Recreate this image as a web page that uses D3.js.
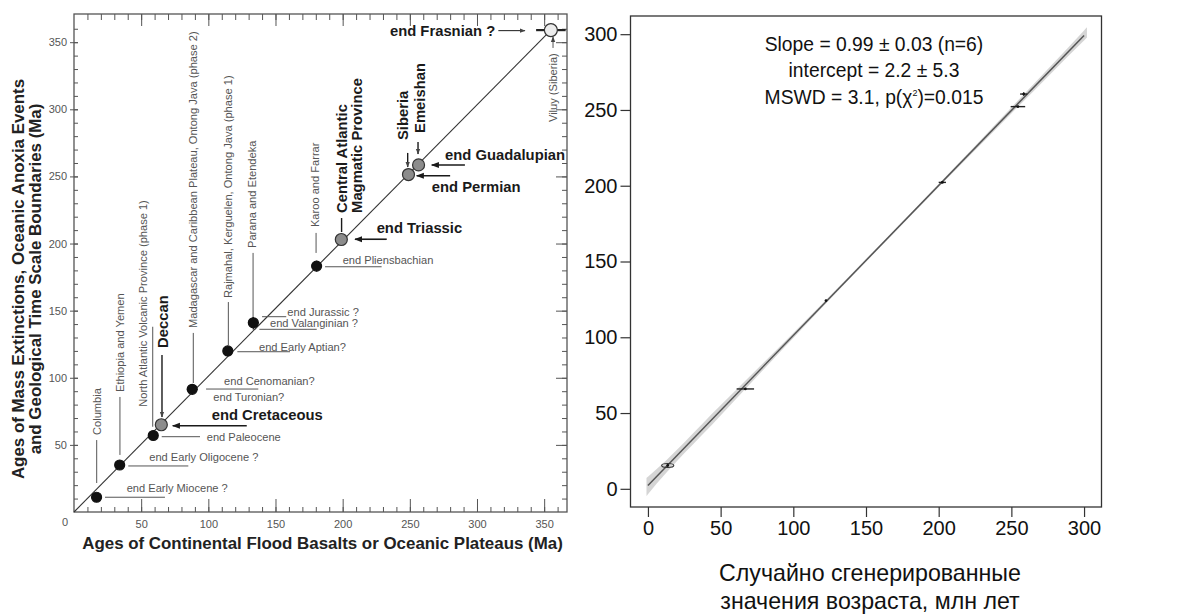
<!DOCTYPE html>
<html><head><meta charset="utf-8">
<script src="https://cdn.jsdelivr.net/npm/d3@7"></script>
<style>
body{margin:0;background:#fff;}
svg{display:block;font-family:"Liberation Sans",Arial,Helvetica,sans-serif;}
</style>
</head><body>
<svg id="c" width="1180" height="615"></svg>
<script>
// ================= LEFT CHART DATA =================
const lipNames = ["Columbia","Ethiopia and Yemen","North Atlantic Volcanic Province (phase 1)","Deccan",
  "Madagascar and Caribbean Plateau, Ontong Java (phase 2)","Rajmahal, Kerguelen, Ontong Java (phase 1)",
  "Parana and Etendeka","Karoo and Farrar","Central Atlantic Magmatic Province","Siberia","Emeishan","Viluy (Siberia)"];
const lipAges   = [16.8, 34, 59, 65, 88, 114.5, 133.5, 180.6, 199, 249, 256.5, 355];
const eventAges = [11, 35, 57, 65, 91.4, 120, 141, 183.2, 203, 251.4, 258.6, 359];
const pointKind = ["black","black","black","gray","black","black","black","black","gray","gray","gray","light"];
const lipAgeErr   = [0, 0, 0, 0, 4, 0, 4, 0, 0, 0, 0, 11];
const eventAgeErr = [0, 0, 0, 0, 0, 4, 5, 4, 0, 0, 0, 0];
const diagX = [0, 355];
const diagY = [0, 359];
const leftTicks = [50, 100, 150, 200, 250, 300, 350];

const eventNames = ["end Early Miocene ?","end Early Oligocene ?","end Paleocene","end Cretaceous","end Cenomanian?",
  "end Turonian?","end Early Aptian?","end Valanginian ?","end Jurassic ?","end Pliensbachian","end Triassic",
  "end Permian","end Guadalupian","end Frasnian ?"];

// ================= RIGHT CHART DATA =================
const simX    = [13.6, 67, 122.5, 202.5, 254.5, 258.5];
const simY    = [15.4, 65.9, 124.2, 202.2, 252.2, 260.5];
const simXErr = [4.2, 6, 0.6, 2.5, 5, 2.5];
const simYErr = [1.3, 0.4, 0.4, 0.4, 0.4, 1.2];
const fitX = [0, 300];
const fitY = [2.2, 299.2];
const bandX    = [-1, 0, 50, 100, 150, 200, 250, 300, 302];
const bandHalf = [6.0, 5.8, 3.4, 1.6, 0.9, 1.0, 2.0, 3.3, 3.4];
const rightTicks = [0, 50, 100, 150, 200, 250, 300];
const statLines = ["Slope = 0.99 ± 0.03 (n=6)", "intercept = 2.2 ± 5.3", "MSWD = 3.1, p(χ", ")=0.015"];
const xTitleRight = ["Случайно сгенерированные", "значения возраста, млн лет"];

// ================= LAYOUT (positions in data units) =================
const hLabels = [
  {t:0,  tx:39.2, ty:17.9, line:[23.1, 67.7, 11]},
  {t:1,  tx:56,   ty:41,   line:[40.4, 85.1, 34.3]},
  {t:2,  tx:98.8, ty:56.1, line:[65.3, 93.8, 56.1]},
  {t:3,  tx:102.5,ty:72.3, line:[128.6, 73.5, 64.3], arrow:true, bold:true},
  {t:4,  tx:111.7,ty:97.8, line:[98.3, 137.2, 91.6]},
  {t:5,  tx:103.7,ty:85.9},
  {t:6,  tx:137.7,ty:123.2,line:[121.6, 160.8, 119.4]},
  {t:7,  tx:145.9,ty:140.6,line:[138, 180.7, 136.1]},
  {t:8,  tx:158.8,ty:149.2,line:[140, 158, 145.5]},
  {t:9,  tx:200,  ty:187.7,line:[186.9, 229, 182.7]},
  {t:10, tx:225.3,ty:211.4,line:[232.8, 209.2, 203.2], arrow:true, bold:true},
  {t:11, tx:266.3,ty:242.4,line:[280, 255.1, 250.5], arrow:true, bold:true},
  {t:12, tx:276.2,ty:266,  line:[291, 266.3, 258.5], arrow:true, bold:true},
  {t:13, tx:235.2,ty:358.6,line:[315.9, 335.7, 358.6], arrow:true, bold:true, thin:true}
];
const vLabels = [
  {t:0,  x:16.9, y0:57.4,  line:[16.9, 53.6, 21.6]},
  {t:1,  x:34.2, y0:89.4,  line:[34.2, 85.7, 42.5]},
  {t:2,  x:51.6, y0:78.4,  line:[58.6, 138, 63.5]},
  {t:3,  x:66.5, y0:122.2, line:[65.5, 117, 70.8], arrow:true, bold:true},
  {t:4,  x:88.8, y0:137.1, line:[88.8, 133.4, 96.1]},
  {t:5,  x:114.9,y0:159.4, line:[114.9, 156.4, 124.4]},
  {t:6,  x:132.3,y0:196.7, line:[133.3, 193, 144.5]},
  {t:7,  x:179.4,y0:212.3, line:[180.2, 207.9, 193]},
  {t:9,  x:245.1,y0:277.1, line:[248.4, 267.5, 257], arrow:true, bold:true},
  {t:10, x:257.6,y0:282.4, line:[256.1, 275.6, 266.7], arrow:true, bold:true},
  {t:11, x:356.6,y0:290.5, line:[356.6, 345.7, 353.9], arrow:true, thin:true}
];

const svg = d3.select("#c");
const defs = svg.append("defs");
function mk(id, size, color){
  defs.append("marker").attr("id", id).attr("viewBox","0 0 10 10").attr("refX",9).attr("refY",5)
    .attr("markerWidth", size).attr("markerHeight", size).attr("markerUnits","userSpaceOnUse")
    .attr("orient","auto").append("path").attr("d","M0,1.2 L10,5 L0,8.8 z").attr("fill", color);
}
mk("ahb", 8, "#1a1a1a");
mk("ahs", 6, "#444");

const BOLD = 14.8, SMALL = 11.1;

// ================= LEFT CHART =================
const L = {x0:74, x1:567, y0:512, y1:14};
const lx = d3.scaleLinear().domain([0, 367]).range([L.x0, L.x1]);
const ly = d3.scaleLinear().domain([0, 371]).range([L.y0, L.y1]);
const gl = svg.append("g");
const minorL = d3.range(10, 370, 10);
const axisCol = "#555";

function styleAxis(g){ g.select(".domain").remove(); g.selectAll("line").attr("stroke", axisCol).attr("stroke-width",1); }

gl.append("g").attr("transform",`translate(0,${L.y0})`)
  .call(d3.axisBottom(lx).tickValues(minorL).tickSize(-5).tickFormat("")).call(styleAxis);
gl.append("g").attr("transform",`translate(0,${L.y0})`)
  .call(d3.axisBottom(lx).tickValues(leftTicks).tickSize(-13).tickPadding(8)).call(styleAxis)
  .selectAll("text").attr("font-size",11).attr("fill","#555").attr("font-family","Liberation Sans, Arial");
gl.append("g").attr("transform",`translate(0,${L.y1})`)
  .call(d3.axisTop(lx).tickValues(minorL).tickSize(-6).tickFormat("")).call(styleAxis);
gl.append("g").attr("transform",`translate(0,${L.y1})`)
  .call(d3.axisTop(lx).tickValues(leftTicks).tickSize(-12).tickFormat("")).call(styleAxis);
gl.append("g").attr("transform",`translate(${L.x1},0)`)
  .call(d3.axisRight(ly).tickValues(minorL).tickSize(-5).tickFormat("")).call(styleAxis);
gl.append("g").attr("transform",`translate(${L.x1},0)`)
  .call(d3.axisRight(ly).tickValues(leftTicks).tickSize(-11).tickFormat("")).call(styleAxis);
gl.append("g").attr("transform",`translate(${L.x0},0)`)
  .call(d3.axisLeft(ly).tickValues(minorL).tickSize(-4).tickFormat("")).call(styleAxis);
gl.append("g").attr("transform",`translate(${L.x0},0)`)
  .call(d3.axisLeft(ly).tickValues(leftTicks).tickSizeInner(4).tickSizeOuter(0).tickPadding(3)).call(styleAxis)
  .call(g=>g.selectAll(".tick line").attr("x2",4).attr("x1",-4))
  .selectAll("text").attr("font-size",11).attr("fill","#555").attr("font-family","Liberation Sans, Arial");
gl.append("text").attr("x", lx(0)-9).attr("y", ly(0)+14).attr("font-size",11).attr("fill","#555")
  .attr("text-anchor","middle").text("0");
gl.append("rect").attr("x",L.x0).attr("y",L.y1).attr("width",L.x1-L.x0).attr("height",L.y0-L.y1)
  .attr("fill","none").attr("stroke",axisCol).attr("stroke-width",1.3);

// axis titles
gl.append("text").attr("x", 322.5).attr("y", 543).attr("dominant-baseline","central")
  .attr("text-anchor","middle").attr("font-weight","bold").attr("font-size",16.9).attr("fill","#222")
  .text("Ages of Continental Flood Basalts or Oceanic Plateaus (Ma)");
[["Ages of Mass Extinctions, Oceanic Anoxia Events", 18],["and Geological Time Scale Boundaries (Ma)", 35]]
  .forEach(([t, x]) => {
    gl.append("text").attr("transform",`translate(${x},279) rotate(-90)`).attr("text-anchor","middle")
      .attr("dominant-baseline","central").attr("font-weight","bold").attr("font-size",16.9).attr("fill","#222").text(t);
  });

gl.append("line").attr("x1",lx(diagX[0])).attr("y1",ly(diagY[0])).attr("x2",lx(diagX[1])).attr("y2",ly(diagY[1]))
  .attr("stroke","#333").attr("stroke-width",1.1);

hLabels.forEach(d => {
  if (d.line) {
    const ln = gl.append("line").attr("x1",lx(d.line[0])).attr("x2",lx(d.line[1]))
      .attr("y1",ly(d.line[2])).attr("y2",ly(d.line[2]))
      .attr("stroke", d.bold ? "#1a1a1a" : "#555").attr("stroke-width", d.bold && !d.thin ? 1.6 : 1);
    if (d.arrow) ln.attr("marker-end", d.thin ? "url(#ahs)" : "url(#ahb)");
  }
  gl.append("text").attr("x",lx(d.tx)).attr("y",ly(d.ty)).attr("dominant-baseline","central")
    .attr("font-size", d.bold ? BOLD : SMALL).attr("font-weight", d.bold ? "bold" : "normal")
    .attr("fill", d.bold ? "#1a1a1a" : "#555").text(eventNames[d.t]);
});
vLabels.forEach(d => {
  if (d.line) {
    const ln = gl.append("line").attr("x1",lx(d.line[0])).attr("x2",lx(d.line[0]))
      .attr("y1",ly(d.line[1])).attr("y2",ly(d.line[2]))
      .attr("stroke", d.bold ? "#1a1a1a" : "#555").attr("stroke-width", d.bold ? 1.4 : 1);
    if (d.arrow) ln.attr("marker-end", "url(#ahs)");
  }
  gl.append("text").attr("transform",`translate(${lx(d.x)},${ly(d.y0)}) rotate(-90)`)
    .attr("dominant-baseline","central")
    .attr("font-size", d.bold ? BOLD : SMALL).attr("font-weight", d.bold ? "bold" : "normal")
    .attr("fill", d.bold ? "#1a1a1a" : "#555").text(lipNames[d.t]);
});
gl.append("line").attr("x1",lx(199.2)).attr("x2",lx(199.2)).attr("y1",ly(208.6)).attr("y2",ly(219))
  .attr("stroke","#1a1a1a").attr("stroke-width",1.4);
[["Central Atlantic",199.2],["Magmatic Province",210.8]].forEach(([t,x])=>{
  gl.append("text").attr("transform",`translate(${lx(x)},${ly(222.8)}) rotate(-90)`)
    .attr("dominant-baseline","central").attr("font-size",BOLD).attr("font-weight","bold")
    .attr("fill","#1a1a1a").text(t);
});

const pts = lipAges.map((a,i)=>({x:a, y:eventAges[i], k:pointKind[i], ex:lipAgeErr[i], ey:eventAgeErr[i]}));
pts.forEach(p => {
  if (p.ex) gl.append("line").attr("x1",lx(p.x-p.ex)).attr("x2",lx(p.x+p.ex)).attr("y1",ly(p.y)).attr("y2",ly(p.y))
    .attr("stroke","#222").attr("stroke-width", p.k==="light" ? 2.2 : 1.4);
  if (p.ey) gl.append("line").attr("x1",lx(p.x)).attr("x2",lx(p.x)).attr("y1",ly(p.y-p.ey)).attr("y2",ly(p.y+p.ey))
    .attr("stroke","#222").attr("stroke-width",1.4).attr("stroke-dasharray","2,1.5");
});
gl.selectAll("circle.pt").data(pts).join("circle").attr("class","pt")
  .attr("cx",d=>lx(d.x)).attr("cy",d=>ly(d.y))
  .attr("r",d=>d.k==="black"?5:(d.k==="gray"?6:6.5))
  .attr("fill",d=>d.k==="black"?"#111":(d.k==="gray"?"#8c8c8c":"#ececec"))
  .attr("stroke",d=>d.k==="black"?"#111":"#333").attr("stroke-width",1.2);

// ================= RIGHT CHART =================
const R = {x0:630.5, x1:1101.5, y0:507, y1:16};
const rx = d3.scaleLinear().domain([-12, 312]).range([R.x0, R.x1]);
const ry = d3.scaleLinear().domain([-12, 312]).range([R.y0, R.y1]);
const gr = svg.append("g");

const slope = (fitY[1]-fitY[0])/(fitX[1]-fitX[0]);
const band = bandX.map((x,i)=>({x, lo: fitY[0] + slope*(x-fitX[0]) - bandHalf[i],
                                   hi: fitY[0] + slope*(x-fitX[0]) + bandHalf[i]}));
gr.append("path").datum(band)
  .attr("d", d3.area().x(d=>rx(d.x)).y0(d=>ry(d.lo)).y1(d=>ry(d.hi)).curve(d3.curveMonotoneX))
  .attr("fill","#d0d0d0").attr("opacity",0.9);
gr.append("line").attr("x1",rx(fitX[0])).attr("y1",ry(fitY[0])).attr("x2",rx(fitX[1])).attr("y2",ry(fitY[1]))
  .attr("stroke","#555").attr("stroke-width",1.5);

simX.forEach((x,i)=>{
  if (i===0) {
    gr.append("ellipse").attr("cx",rx(x)).attr("cy",ry(simY[i]))
      .attr("rx", rx(x+simXErr[i])-rx(x)).attr("ry", ry(simY[i])-ry(simY[i]+simYErr[i]))
      .attr("fill","none").attr("stroke","#333").attr("stroke-width",1.1);
  } else {
    gr.append("line").attr("x1",rx(x-simXErr[i])).attr("x2",rx(x+simXErr[i])).attr("y1",ry(simY[i])).attr("y2",ry(simY[i]))
      .attr("stroke","#222").attr("stroke-width",1.4);
    gr.append("line").attr("x1",rx(x)).attr("x2",rx(x)).attr("y1",ry(simY[i]-simYErr[i])).attr("y2",ry(simY[i]+simYErr[i]))
      .attr("stroke","#222").attr("stroke-width",1.4);
  }
  gr.append("circle").attr("cx",rx(x)).attr("cy",ry(simY[i])).attr("r",1.4).attr("fill","#111");
});

gr.append("rect").attr("x",R.x0).attr("y",R.y1).attr("width",R.x1-R.x0).attr("height",R.y0-R.y1)
  .attr("fill","none").attr("stroke","#333").attr("stroke-width",1.3);
gr.append("g").attr("transform",`translate(0,${R.y0})`)
  .call(d3.axisBottom(rx).tickValues(rightTicks).tickSize(10).tickPadding(4))
  .call(g=>{g.select(".domain").remove(); g.selectAll("line").attr("stroke","#333").attr("stroke-width",1.2);})
  .selectAll("text").attr("font-size",20).attr("fill","#111").attr("font-family","Liberation Sans, Arial");
gr.append("g").attr("transform",`translate(${R.x0},0)`)
  .call(d3.axisLeft(ry).tickValues(rightTicks).tickSize(10).tickPadding(3))
  .call(g=>{g.select(".domain").remove(); g.selectAll("line").attr("stroke","#333").attr("stroke-width",1.2);})
  .selectAll("text").attr("font-size",20).attr("fill","#111").attr("font-family","Liberation Sans, Arial");

const sx = 874;
const SF = 19.3;
gr.append("text").attr("x",sx).attr("y",51).attr("text-anchor","middle").attr("font-size",SF).attr("fill","#111").text(statLines[0]);
gr.append("text").attr("x",sx).attr("y",77).attr("text-anchor","middle").attr("font-size",SF).attr("fill","#111").text(statLines[1]);
const t3 = gr.append("text").attr("x",sx).attr("y",104).attr("text-anchor","middle").attr("font-size",SF).attr("fill","#111");
t3.append("tspan").text(statLines[2]);
t3.append("tspan").attr("dy",-8).attr("font-size",9).text("2");
t3.append("tspan").attr("dy",8).text(statLines[3]);

gr.append("text").attr("x",870).attr("y",573).attr("dominant-baseline","central").attr("text-anchor","middle")
  .attr("font-size",23.2).attr("fill","#111").text(xTitleRight[0]);
gr.append("text").attr("x",870).attr("y",601).attr("dominant-baseline","central").attr("text-anchor","middle")
  .attr("font-size",23.2).attr("fill","#111").text(xTitleRight[1]);
</script>
</body></html>
